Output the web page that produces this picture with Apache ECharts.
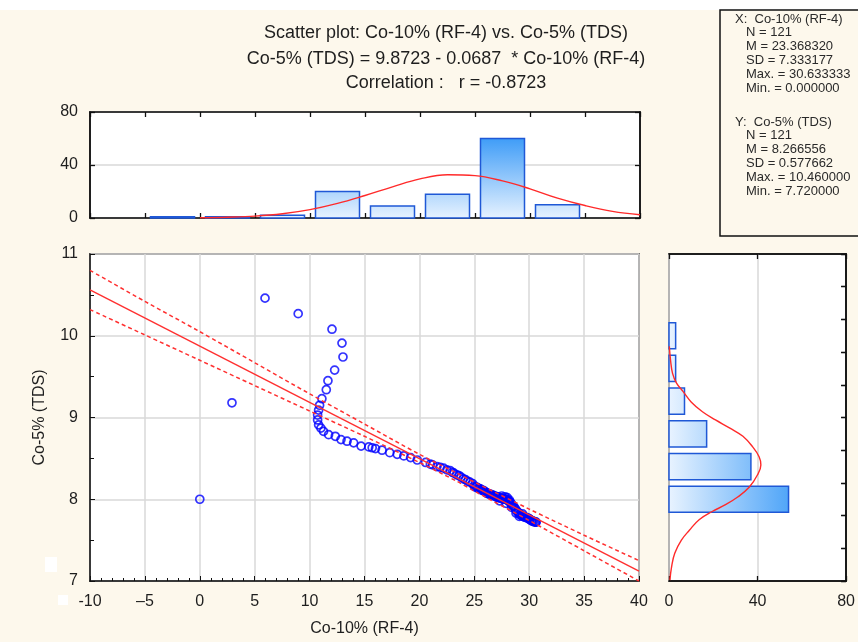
<!DOCTYPE html>
<html><head><meta charset="utf-8">
<script src="https://cdn.jsdelivr.net/npm/echarts@6/dist/echarts.min.js"></script>
<style>html,body{margin:0;padding:0;background:#fdf8ec;}#c{width:858px;height:642px;}</style>
</head><body><div id="c"></div>
<script>
// ---------- text ----------
const titleLines = [
  'Scatter plot: Co-10% (RF-4) vs. Co-5% (TDS)',
  'Co-5% (TDS) = 9.8723 - 0.0687  * Co-10% (RF-4)',
  'Correlation :   r = -0.8723'
];
const statsHeadX = 'X:  Co-10% (RF-4)';
const statsX = ['N = 121', 'M = 23.368320', 'SD = 7.333177', 'Max. = 30.633333', 'Min. = 0.000000'];
const statsHeadY = 'Y:  Co-5% (TDS)';
const statsY = ['N = 121', 'M = 8.266556', 'SD = 0.577662', 'Max. = 10.460000', 'Min. = 7.720000'];
const xAxisName = 'Co-10% (RF-4)';
const yAxisName = 'Co-5% (TDS)';

// ---------- histogram of X (top) ----------
const histXLo = [-5, 0, 5, 10, 15, 20, 25, 30];
const histXHi = [0, 5, 10, 15, 20, 25, 30, 35];
const histXCount = [1, 1, 2, 20, 9, 18, 60, 10];
const normTopX = [0, 2.5, 5, 7.5, 10, 12.5, 15, 17.5, 20, 22.5, 25, 27.5, 30, 32.5, 35, 37.5, 40];
const normTopY = [0.2, 0.6, 1.4, 3.2, 6.3, 11, 17, 23.5, 29.5, 32.6, 32, 28, 22, 15, 9.4, 5, 2.5];

// ---------- histogram of Y (right) ----------
const histYLo = [7.8, 8.2, 8.6, 9.0, 9.4, 9.8];
const histYHi = [8.2, 8.6, 9.0, 9.4, 9.8, 10.2];
const histYCount = [54, 37, 17, 7, 3, 3];
const normRightCount = [0.15, 0.7, 1.6, 3.4, 6.3, 10.0, 15.1, 21.0, 27.5, 33.4, 37.8, 40.7, 41.5, 40.0, 36.3, 31.2, 25.3, 19.5, 13.6, 9.2, 5.6, 2.6, 1.2, 0.4];
const normRightY = [9.87, 9.70, 9.54, 9.42, 9.32, 9.19, 9.07, 8.97, 8.87, 8.77, 8.64, 8.52, 8.42, 8.30, 8.15, 8.03, 7.93, 7.85, 7.75, 7.62, 7.50, 7.34, 7.18, 7.01];

// ---------- regression line and 95% band ----------
const fitX = [-10, 40];
const fitY = [10.56, 7.12];
const bandX = [-10, -5, 0, 5, 10, 15, 20, 23.4, 25, 30, 35, 40];
const bandUpper = [10.80, 10.42, 10.05, 9.67, 9.29, 8.92, 8.55, 8.32, 8.21, 7.88, 7.56, 7.25];
const bandLower = [10.32, 10.01, 9.70, 9.39, 9.08, 8.77, 8.45, 8.22, 8.10, 7.74, 7.37, 7.00];

// ---------- scatter points ----------
const scatterX = [
  0, 2.93, 5.94, 8.96,
  12.04, 12.95, 13.04, 12.28, 11.67, 11.52, 11.12, 10.91, 10.82, 10.73,
  10.73, 10.82, 11.03, 11.27, 11.73, 12.34, 12.86, 13.41, 14.01, 14.69,
  15.39, 15.7, 16.0, 16.6, 17.3, 17.98, 18.58, 19.2, 19.8,
  20.57, 21.0, 21.2, 21.6, 21.9, 22.2, 22.5, 22.8, 23.0, 23.15, 23.4, 23.6, 23.8, 24.0, 24.2, 24.4, 24.6, 24.85,
  25.0, 25.1, 25.2, 25.3, 25.4, 25.5, 25.6, 25.7, 25.8, 25.9,
  26.0, 26.1, 26.2, 26.3, 26.4, 26.5, 26.6, 26.7, 26.8, 26.9,
  27.0, 27.1, 27.2, 27.3, 27.4, 27.5, 27.6, 27.7, 27.8, 27.9,
  28.0, 28.1, 28.2, 28.3, 28.4, 28.5, 28.6, 28.7, 28.8, 28.9,
  29.0, 29.1, 29.2, 29.3, 29.4, 29.5, 29.6, 29.7, 29.8, 29.9,
  27.5, 27.8, 28.0, 28.2, 27.3, 27.9, 28.4, 28.8, 29.1, 29.4,
  30.0, 30.05, 30.1, 30.2, 30.25, 30.3, 30.4, 30.5, 30.6, 30.63
];
const scatterY = [
  8.00, 9.18, 10.46, 10.27,
  10.08, 9.91, 9.74, 9.58, 9.45, 9.34, 9.23, 9.15, 9.09, 9.03,
  8.97, 8.91, 8.87, 8.83, 8.79, 8.77, 8.73, 8.71, 8.69, 8.65,
  8.64, 8.63, 8.62, 8.60, 8.57, 8.55, 8.53, 8.51, 8.48,
  8.45, 8.43, 8.42, 8.40, 8.39, 8.38, 8.36, 8.35, 8.33, 8.32, 8.30, 8.29, 8.27, 8.25, 8.24, 8.22, 8.21, 8.19,
  8.16, 8.15, 8.15, 8.14, 8.13, 8.13, 8.12, 8.11, 8.11, 8.10,
  8.09, 8.08, 8.07, 8.07, 8.06, 8.06, 8.05, 8.05, 8.04, 8.04,
  8.03, 8.03, 8.02, 8.02, 8.01, 8.01, 8.01, 8.00, 8.00, 8.00,
  7.99, 7.98, 7.97, 7.96, 7.94, 7.92, 7.91, 7.89, 7.87, 7.85,
  7.84, 7.82, 7.81, 7.80, 7.79, 7.79, 7.78, 7.78, 7.77, 7.77,
  8.04, 8.03, 8.02, 7.99, 7.98, 7.95, 7.90, 7.83, 7.79, 7.82,
  7.76, 7.75, 7.75, 7.74, 7.74, 7.73, 7.73, 7.72, 7.72, 7.72
];

// ---------- chart ----------
const FONT = "'Liberation Sans', Arial, sans-serif";
const TXT = '#1e1e1e';
const chart = echarts.init(document.getElementById('c'), null, {renderer: 'canvas'});

const gridBox = {show: true, backgroundColor: '#ffffff', borderColor: '#111', borderWidth: 1.5};
const tickStyle = {show: true, inside: true, length: 5, lineStyle: {color: '#111', width: 1.3}};
const axLine = {show: true, onZero: false, lineStyle: {color: '#111', width: 1.5}};
const lbl = {color: TXT, fontFamily: FONT, fontSize: 16};

const graphics = [
  {type: 'rect', shape: {x: 0, y: 0, width: 858, height: 10}, style: {fill: '#ffffff'}, silent: true},
  {type: 'rect', shape: {x: 720, y: 10, width: 150, height: 226}, style: {fill: 'none', stroke: '#111', lineWidth: 1.5}, silent: true},
  {type: 'rect', shape: {x: 45, y: 557, width: 12, height: 15}, style: {fill: '#ffffff'}, silent: true},
  {type: 'rect', shape: {x: 58, y: 595, width: 10, height: 10}, style: {fill: '#ffffff'}, silent: true}
];
const titleY = [33, 59, 83];
titleLines.forEach((t, i) => graphics.push({type: 'text', x: 446, y: titleY[i],
  style: {text: t, fill: TXT, font: '18px ' + FONT, textAlign: 'center', textVerticalAlign: 'middle'}}));
function statBlock(head, lines, y0) {
  graphics.push({type: 'text', x: 735, y: y0, style: {text: head, fill: '#2a2a2a', font: '13px ' + FONT, textVerticalAlign: 'middle'}});
  lines.forEach((t, i) => graphics.push({type: 'text', x: 746, y: y0 + 13.8 * (i + 1),
    style: {text: t, fill: '#2a2a2a', font: '13px ' + FONT, textVerticalAlign: 'middle'}}));
}
statBlock(statsHeadX, statsX, 19);
statBlock(statsHeadY, statsY, 122);

function topHistItem(params, api) {
  const p0 = api.coord([api.value(0), 0]);
  const p1 = api.coord([api.value(1), api.value(2)]);
  const w = p1[0] - p0[0], inset = w * 0.1;
  const g0 = api.coord([0, 0]), g1 = api.coord([0, 62]);
  return {type: 'rect',
    shape: {x: p0[0] + inset, y: p1[1], width: w - 2 * inset, height: p0[1] - p1[1]},
    style: {fill: new echarts.graphic.LinearGradient(0, g0[1], 0, g1[1],
      [{offset: 0, color: '#e6f2ff'}, {offset: 1, color: '#3a9af7'}], true),
      stroke: '#1f58d6', lineWidth: 1.5}};
}
function rightHistItem(params, api) {
  const p0 = api.coord([0, api.value(0)]);
  const p1 = api.coord([api.value(2), api.value(1)]);
  const h = p0[1] - p1[1], inset = h * 0.1;
  const g0 = api.coord([0, 8]), g1 = api.coord([62, 8]);
  return {type: 'rect',
    shape: {x: p0[0], y: p1[1] + inset, width: p1[0] - p0[0], height: h - 2 * inset},
    style: {fill: new echarts.graphic.LinearGradient(g0[0], 0, g1[0], 0,
      [{offset: 0, color: '#e8f3ff'}, {offset: 1, color: '#3a9af7'}], true),
      stroke: '#1f58d6', lineWidth: 1.5}};
}

const option = {
  backgroundColor: '#fdf8ec',
  animation: false,
  graphic: graphics,
  grid: [
    Object.assign({left: 90, top: 112, width: 550, height: 106}, gridBox),
    Object.assign({left: 90, top: 254, width: 549, height: 327}, gridBox),
    Object.assign({left: 669, top: 254, width: 181, height: 327}, gridBox)
  ],
  xAxis: [
    {gridIndex: 0, type: 'value', min: -10, max: 40, interval: 5, axisLabel: {show: false}, axisTick: tickStyle, axisLine: axLine, splitLine: {show: false}},
    {gridIndex: 0, type: 'value', position: 'top', min: -10, max: 40, interval: 5, axisLabel: {show: false}, axisTick: tickStyle, axisLine: axLine, splitLine: {show: false}},
    {gridIndex: 1, type: 'value', min: -10, max: 40, interval: 5,
      axisLabel: Object.assign({margin: 13, formatter: v => v === -5 ? '\u20135' : String(v)}, lbl),
      axisTick: {show: true, inside: true, length: 5, lineStyle: {color: '#111'}},
      minorTick: {show: true, splitNumber: 5, length: 3, lineStyle: {color: '#111'}},
      axisLine: axLine, splitLine: {show: true, lineStyle: {color: '#d9d9d9', width: 1.5}},
      name: xAxisName, nameLocation: 'middle', nameGap: 40, nameTextStyle: {color: TXT, fontFamily: FONT, fontSize: 16}},
    {gridIndex: 2, type: 'value', min: 0, max: 80, interval: 40,
      axisLabel: Object.assign({margin: 13}, lbl), axisTick: tickStyle, axisLine: axLine,
      splitLine: {show: true, lineStyle: {color: '#d9d9d9', width: 1.5}}},
    {gridIndex: 2, type: 'value', position: 'top', min: 0, max: 80, interval: 40, axisLabel: {show: false}, axisTick: tickStyle, axisLine: axLine, splitLine: {show: false}}
  ],
  yAxis: [
    {gridIndex: 0, type: 'value', min: 0, max: 80, interval: 40, axisLabel: Object.assign({margin: 12}, lbl), axisTick: tickStyle, axisLine: axLine,
      splitLine: {show: true, lineStyle: {color: '#d9d9d9', width: 1.5}}},
    {gridIndex: 0, type: 'value', position: 'right', min: 0, max: 80, interval: 40, axisLabel: {show: false}, axisTick: tickStyle, axisLine: axLine, splitLine: {show: false}},
    {gridIndex: 1, type: 'value', min: 7, max: 11, interval: 1,
      axisLabel: Object.assign({margin: 12}, lbl),
      axisTick: {show: true, inside: true, length: 5, lineStyle: {color: '#111'}},
      minorTick: {show: true, splitNumber: 2, length: 4, lineStyle: {color: '#111'}},
      axisLine: axLine, splitLine: {show: true, lineStyle: {color: '#d9d9d9', width: 1.5}},
      name: yAxisName, nameLocation: 'middle', nameGap: 42, nameTextStyle: {color: TXT, fontFamily: FONT, fontSize: 16}},
    {gridIndex: 2, type: 'value', min: 7, max: 11, show: false},
    {gridIndex: 2, type: 'value', min: 0, max: 10, interval: 1, axisLabel: {show: false}, axisTick: tickStyle, axisLine: axLine, splitLine: {show: false}},
    {gridIndex: 2, type: 'value', position: 'right', min: 0, max: 10, interval: 1, axisLabel: {show: false}, axisTick: tickStyle, axisLine: axLine, splitLine: {show: false}}
  ],
  series: [
    {type: 'custom', xAxisIndex: 0, yAxisIndex: 0, renderItem: topHistItem, encode: {x: [0, 1], y: 2},
      data: histXLo.map((lo, i) => [lo, histXHi[i], histXCount[i]]), z: 2},
    {type: 'line', xAxisIndex: 0, yAxisIndex: 0, showSymbol: false, smooth: 0.4,
      lineStyle: {color: '#ff2a2a', width: 1.4}, data: normTopX.map((x, i) => [x, normTopY[i]]), z: 3},
    {type: 'custom', xAxisIndex: 3, yAxisIndex: 3, renderItem: rightHistItem, encode: {y: [0, 1], x: 2},
      data: histYLo.map((lo, i) => [lo, histYHi[i], histYCount[i]]), z: 2},
    {type: 'line', xAxisIndex: 3, yAxisIndex: 3, showSymbol: false, smooth: 0.4,
      lineStyle: {color: '#ff2a2a', width: 1.4}, data: normRightCount.map((c, i) => [c, normRightY[i]]), z: 3},
    {type: 'scatter', xAxisIndex: 2, yAxisIndex: 2, symbol: 'circle', symbolSize: 8,
      itemStyle: {color: 'rgba(0,0,0,0)', borderColor: '#0000ff', borderWidth: 1.7},
      data: scatterX.map((x, i) => [x, scatterY[i]]), z: 2},
    {type: 'line', xAxisIndex: 2, yAxisIndex: 2, showSymbol: false,
      lineStyle: {color: '#ff3030', width: 1.4}, data: fitX.map((x, i) => [x, fitY[i]]), z: 4},
    {type: 'line', xAxisIndex: 2, yAxisIndex: 2, showSymbol: false, smooth: 0.3,
      lineStyle: {color: '#ff3030', width: 1.5, type: [4, 3]}, data: bandX.map((x, i) => [x, bandUpper[i]]), z: 4},
    {type: 'line', xAxisIndex: 2, yAxisIndex: 2, showSymbol: false, smooth: 0.3,
      lineStyle: {color: '#ff3030', width: 1.5, type: [4, 3]}, data: bandX.map((x, i) => [x, bandLower[i]]), z: 4}
  ]
};
chart.setOption(option);
</script></body></html>
